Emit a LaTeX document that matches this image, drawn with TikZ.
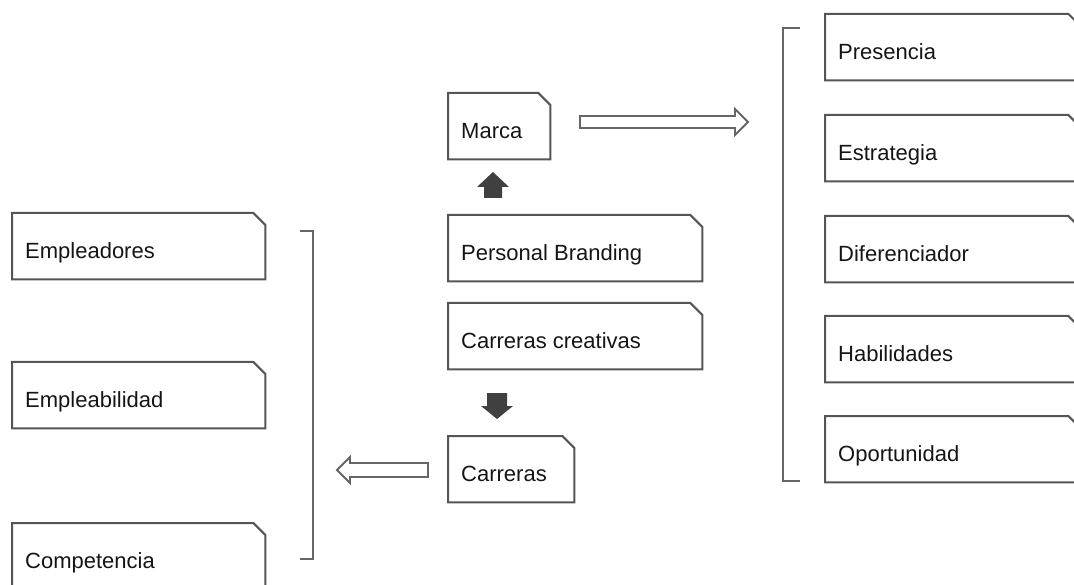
\documentclass[tikz,border=0pt]{standalone}
\usepackage{fontspec}
\setmainfont{Liberation Sans}
\definecolor{linec}{HTML}{555555}
\definecolor{textc}{HTML}{151515}
\definecolor{arrowc}{HTML}{404040}
\definecolor{hollowc}{HTML}{666666}
\tikzset{
  cardline/.style={draw=linec, line width=2pt, line join=miter},
  txt/.style={anchor=base west, xshift=13pt, yshift=-12pt, inner sep=0pt,
    font=\fontsize{22}{26}\selectfont, text=textc},
  card/.style 2 args={rectangle, inner sep=0pt, minimum height=66pt,
    minimum width=#1, anchor=north west, label={[txt]west:#2},
    append after command={\pgfextra{\let\LN\tikzlastnode
      \draw[cardline] (\LN.north west) -- ([xshift=-12pt]\LN.north east)
        -- ([yshift=-12pt]\LN.north east) -- (\LN.south east)
        -- (\LN.south west) -- cycle;}}},
  solidarrow/.style={fill=arrowc, draw=none},
  hollowarrow/.style={draw=hollowc, line width=1.9pt, fill=white, line join=miter},
  bracketline/.style={draw=hollowc, line width=1.8pt},
}
\begin{document}
\begin{tikzpicture}[x=1pt, y=-1pt]
\useasboundingbox (0,0) rectangle (1074,585);
\clip (0,0) rectangle (1074,585);
% left column
\node[card={253pt}{Empleadores}] (empleadores) at (12,213) {};
\node[card={253pt}{Empleabilidad}] (empleabilidad) at (12,362) {};
\node[card={253pt}{Competencia}] (competencia) at (12,523) {};
% centre column
\node[card={102pt}{Marca}] (marca) at (448,93) {};
\node[card={254pt}{Personal Branding}] (pb) at (448,215) {};
\node[card={254pt}{Carreras creativas}] (cc) at (448,303) {};
\node[card={126pt}{Carreras}] (carreras) at (448,436) {};
% right column
\node[card={255pt}{Presencia}] (presencia) at (825,14) {};
\node[card={255pt}{Estrategia}] (estrategia) at (825,115) {};
\node[card={255pt}{Diferenciador}] (diferenciador) at (825,216) {};
\node[card={255pt}{Habilidades}] (habilidades) at (825,316) {};
\node[card={255pt}{Oportunidad}] (oportunidad) at (825,416) {};
% brackets
\draw[bracketline] (300,231) -- (313,231) -- (313,559) -- (300,559);
\draw[bracketline] (800,28) -- (783,28) -- (783,481) -- (800,481);
% solid arrows
\fill[solidarrow] (493,172) -- (509,187) -- (502,187) -- (502,198) -- (484,198)
  -- (484,187) -- (477,187) -- cycle;
\fill[solidarrow] (497,419) -- (513,406) -- (507,406) -- (507,393) -- (487,393)
  -- (487,406) -- (481,406) -- cycle;
% hollow arrows
\draw[hollowarrow] (580,116) -- (735,116) -- (735,109) -- (748,122) -- (735,135)
  -- (735,128) -- (580,128) -- cycle;
\draw[hollowarrow] (428,463) -- (350,463) -- (350,457) -- (337,470) -- (350,483)
  -- (350,477) -- (428,477) -- cycle;
\end{tikzpicture}
\end{document}
